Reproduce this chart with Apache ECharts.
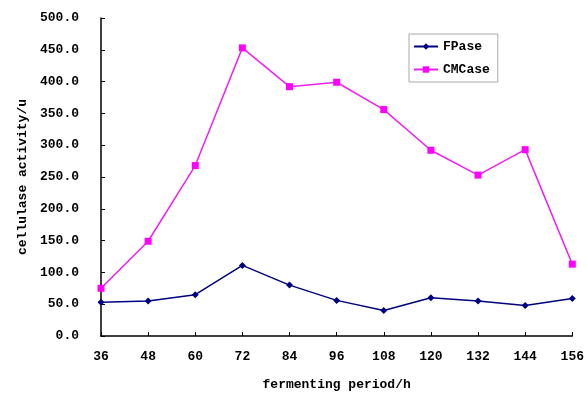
<!DOCTYPE html>
<html><head><meta charset="utf-8">
<script src="https://cdn.jsdelivr.net/npm/echarts@6/dist/echarts.min.js"></script>
<style>html,body{margin:0;padding:0;background:#fff}#c{width:587px;height:396px}</style>
</head><body><div id="c"></div>
<script>
const categories = ['36','48','60','72','84','96','108','120','132','144','156'];
const fpase = [53, 55, 65, 111, 80, 56, 40, 60, 55, 48, 59];
const cmcase = [75, 149, 268, 453, 392, 399, 356, 292, 253, 293, 113];
const yTicks = { min: 0, max: 500, interval: 50 };

const chart = echarts.init(document.getElementById('c'));
const font = 'Liberation Mono';
chart.setOption({
  animation: false,
  backgroundColor: '#fff',
  grid: { left: 101, right: 9, top: 18, bottom: 59 },
  legend: {
    orient: 'vertical', left: 409, top: 34,
    itemGap: 10, itemWidth: 24, itemHeight: 8,
    padding: [6, 8, 6, 4],
    borderColor: '#aaa', borderWidth: 1,
    textStyle: { fontFamily: font, fontSize: 13, fontWeight: 'bold', color: '#000' },
    data: ['FPase', 'CMCase']
  },
  xAxis: {
    type: 'category', data: categories, boundaryGap: false,
    name: 'fermenting period/h', nameLocation: 'middle', nameGap: 42,
    nameTextStyle: { fontFamily: font, fontSize: 13, fontWeight: 'bold', color: '#000' },
    axisLine: { lineStyle: { color: '#000', width: 1.5 } },
    axisTick: { inside: true, length: 4, lineStyle: { color: '#000' } },
    axisLabel: { fontFamily: font, fontSize: 13, fontWeight: 'bold', color: '#000', margin: 14 },
    splitLine: { show: false }
  },
  yAxis: {
    type: 'value', min: yTicks.min, max: yTicks.max, interval: yTicks.interval,
    name: 'cellulase activity/u', nameLocation: 'middle', nameGap: 72, nameRotate: 90,
    nameTextStyle: { fontFamily: font, fontSize: 13, fontWeight: 'bold', color: '#000' },
    axisLine: { show: true, lineStyle: { color: '#000', width: 1.5 } },
    axisTick: { show: true, inside: true, length: 4, lineStyle: { color: '#000' } },
    axisLabel: { fontFamily: font, fontSize: 13, fontWeight: 'bold', color: '#000', margin: 22,
      formatter: v => v.toFixed(1) },
    splitLine: { show: false }
  },
  series: [
    { name: 'FPase', type: 'line', data: fpase, symbol: 'diamond', symbolSize: 7,
      lineStyle: { color: '#000080', width: 1.5 }, itemStyle: { color: '#000080' } },
    { name: 'CMCase', type: 'line', data: cmcase, symbol: 'rect', symbolSize: 7,
      lineStyle: { color: '#EE22EE', width: 1.5 }, itemStyle: { color: '#FF00FF' } }
  ]
});
</script></body></html>
